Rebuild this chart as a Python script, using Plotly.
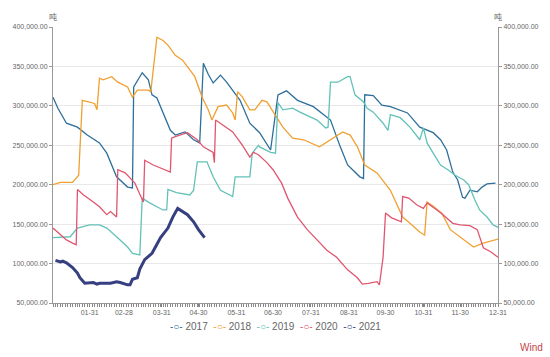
import plotly.graph_objects as go

SERIES_NAMES = ["2017", "2018", "2019", "2020", "2021"]
COLORS = ["#2d6f9b", "#f0a030", "#62c2b8", "#e0566f", "#363f80"]
LINE_WIDTHS = [1.3, 1.3, 1.3, 1.3, 3.0]

dates_2017 = ["01-01","01-05","01-12","01-21","01-29","02-08","02-14","02-22","03-03","03-07",
              "03-08","03-15","03-20","03-23","03-27","04-01","04-07","04-11","04-19","04-26",
              "05-01","05-04","05-08","05-12","05-18","05-23","06-03","06-11","06-19","06-28",
              "07-04","07-11","07-20","08-02","08-10","08-16","08-24","08-30","09-09","09-12",
              "09-13","09-20","09-27","10-04","10-18","10-28","11-08","11-14","11-19","11-24",
              "11-28","12-02","12-04","12-08","12-14","12-18","12-22","12-29"]
values_2017 = [311000,297000,278000,273000,263000,253000,240000,210000,197000,196000,
               324000,342000,333000,314000,310000,291000,269000,263000,267000,257000,
               253000,354000,340000,329000,339000,330000,307000,278000,266000,244000,
               314000,319000,307000,299000,289000,282000,248000,225000,210000,208000,
               314000,313000,301000,299000,291000,273000,266000,257000,244000,216000,
               206000,184000,183000,193000,191000,197000,201000,202000]

dates_2018 = ["01-01","01-07","01-17","01-21","01-22","01-25","01-31","02-04","02-06","02-08",
              "02-11","02-18","02-23","03-03","03-07","03-11","03-20","03-22","03-27","04-01",
              "04-05","04-11","04-17","04-21","04-27","05-03","05-08","05-11","05-16","05-23",
              "05-28","05-30","06-01","06-05","06-11","06-15","06-21","06-25","07-03","07-08",
              "07-16","07-25","08-07","08-16","08-26","09-01","09-07","09-13","09-15","09-23",
              "10-04","10-14","10-20","10-28","11-01","11-03","11-07","11-15","11-22","11-28",
              "12-03","12-11","12-19","12-31"]
values_2018 = [200000,203000,203000,211000,212000,307000,305000,303000,295000,335000,
               333000,337000,330000,324000,311000,320000,320000,318000,387000,383000,
               377000,364000,358000,349000,337000,311000,295000,282000,299000,301000,
               291000,282000,318000,311000,295000,295000,307000,305000,286000,273000,
               259000,257000,248000,257000,267000,263000,248000,225000,223000,215000,
               193000,159000,151000,140000,136000,178000,174000,164000,143000,136000,
               130000,121000,126000,131000]

dates_2019 = ["01-01","01-15","01-21","01-31","02-08","02-14","02-22","03-03","03-07","03-13",
              "03-15","03-21","04-01","04-04","04-05","04-12","04-23","04-26","04-29","05-07",
              "05-08","05-12","05-18","05-28","05-30","06-11","06-13","06-18","06-19","06-28",
              "07-02","07-04","07-08","07-16","07-22","08-05","08-12","08-14","08-16","08-22",
              "08-30","09-01","09-05","09-12","09-15","09-20","09-28","10-02","10-04","10-12",
              "10-20","10-28","10-31","11-03","11-08","11-14","11-20","11-26","12-03","12-07",
              "12-12","12-16","12-22","12-27","12-31"]
values_2019 = [133000,134000,145000,149000,149000,145000,134000,121000,113000,111000,
               183000,177000,168000,168000,194000,190000,187000,193000,229000,229000,
               225000,210000,193000,185000,210000,210000,240000,250000,248000,241000,
               240000,304000,295000,297000,292000,282000,272000,273000,330000,330000,
               337000,337000,314000,305000,297000,292000,278000,269000,289000,285000,
               273000,257000,272000,253000,240000,225000,219000,212000,206000,200000,
               181000,168000,159000,149000,146000]

dates_2020 = ["01-01","01-04","01-12","01-17","01-20","01-21","01-26","02-03","02-08","02-14",
              "02-17","02-22","02-23","03-01","03-09","03-13","03-16","03-17","03-24","04-07",
              "04-08","04-11","04-21","04-29","05-04","05-12","05-13","05-14","05-20","05-28",
              "06-05","06-11","06-14","06-18","06-25","06-30","07-07","07-12","07-20","07-28",
              "08-05","08-13","08-21","08-30","09-07","09-11","09-16","09-23","09-25","09-28",
              "09-30","10-05","10-13","10-14","10-19","10-26","10-31","11-03","11-11","11-16",
              "11-24","11-30","12-08","12-14","12-19","12-25","12-31"]
values_2020 = [145000,141000,130000,126000,124000,194000,187000,178000,172000,162000,
               166000,159000,219000,215000,202000,188000,178000,231000,225000,216000,
               259000,261000,266000,257000,248000,241000,228000,282000,276000,267000,
               250000,235000,241000,238000,228000,219000,202000,183000,159000,143000,
               130000,117000,108000,92000,82000,74000,75000,77000,73000,108000,
               164000,158000,153000,185000,183000,174000,170000,177000,168000,162000,
               151000,149000,148000,143000,120000,115000,108000]

dates_2021 = ["01-03","01-07","01-09","01-12","01-17","01-21","01-23","01-27","02-03","02-06",
              "02-08","02-17","02-22","02-25","03-03","03-05","03-07","03-11","03-13","03-17",
              "03-23","03-30","04-05","04-09","04-13","04-17","04-21","04-26","04-30","05-05"]
values_2021 = [104000,102000,103000,101000,95000,88000,82000,75000,76000,74000,
               75000,75000,77000,76000,73000,73000,80000,82000,93000,105000,
               113000,133000,145000,159000,170000,166000,162000,153000,143000,133000]

TICK_LABELS = ["01-31","02-28","03-31","04-30","05-31","06-30",
               "07-31","08-31","09-30","10-31","11-30","12-31"]
Y_UNIT = "吨"
SOURCE = "Wind"

all_dates = [dates_2017, dates_2018, dates_2019, dates_2020, dates_2021]
all_values = [values_2017, values_2018, values_2019, values_2020, values_2021]

BASE_YEAR = "2021-"
fig = go.Figure()
for name, color, lw, ds, vs in zip(SERIES_NAMES, COLORS, LINE_WIDTHS, all_dates, all_values):
    fig.add_trace(go.Scatter(
        x=[BASE_YEAR + d for d in ds], y=vs, name=name, mode="lines",
        line=dict(color=color, width=lw), showlegend=False,
    ))
# invisible trace to activate the right-hand axis
fig.add_trace(go.Scatter(x=[], y=[], yaxis="y2", showlegend=False, hoverinfo="skip"))

axis_font = dict(family="Liberation Sans, Arial, sans-serif", size=7, color="#666")
yaxis_common = dict(
    range=[50000, 400000], dtick=50000, tickformat=",.2f",
    showline=True, linecolor="#999", linewidth=1,
    ticks="outside", ticklen=3, tickcolor="#999",
    tickfont=axis_font, zeroline=False,
)

fig.update_layout(
    width=550, height=357,
    margin=dict(l=53, r=52, t=27, b=54),
    paper_bgcolor="white", plot_bgcolor="white",
    showlegend=False,
    xaxis=dict(
        type="date", range=[BASE_YEAR + "01-01", BASE_YEAR + "12-31"],
        tickvals=[BASE_YEAR + t for t in TICK_LABELS], ticktext=TICK_LABELS,
        showgrid=False, showline=True, linecolor="#999", linewidth=1,
        ticks="outside", ticklen=3, tickcolor="#888",
        minor=dict(dtick=2 * 86400000, tick0=BASE_YEAR + "01-01",
                   ticks="outside", ticklen=3, tickcolor="#888", showgrid=False),
        tickfont=axis_font,
    ),
    yaxis=dict(**yaxis_common, showgrid=True, gridcolor="#e8e8e8", gridwidth=1),
    yaxis2=dict(**yaxis_common, overlaying="y", side="right", showgrid=False),
)

# legend drawn as a single text line
parts = []
for name, color in zip(SERIES_NAMES, COLORS):
    parts.append(f'<span style="color:{color}">-○-</span> {name}')
legend_text = "&nbsp;&nbsp;".join(parts)

fig.add_annotation(xref="paper", yref="paper", x=0.5, y=0, yshift=-23,
                   text=legend_text, showarrow=False, xanchor="center", yanchor="middle",
                   font=dict(family="Liberation Sans, Arial, sans-serif", size=10, color="#666"))
fig.add_annotation(xref="paper", yref="paper", x=0, y=1, yshift=11, text=Y_UNIT,
                   showarrow=False, xanchor="center", yanchor="middle",
                   font=dict(family="Noto Sans CJK SC", size=8, color="#666"))
fig.add_annotation(xref="paper", yref="paper", x=1, y=1, yshift=11, text=Y_UNIT,
                   showarrow=False, xanchor="center", yanchor="middle",
                   font=dict(family="Noto Sans CJK SC", size=8, color="#666"))
fig.add_annotation(xref="paper", yref="paper", x=1, xshift=33, y=0, yshift=-44, text=SOURCE,
                   showarrow=False, xanchor="center", yanchor="middle",
                   font=dict(family="Liberation Sans, Arial, sans-serif", size=10, color="#c4464a"))

fig.write_html("out.html", config={"displayModeBar": False},
               post_script="document.body.style.margin='0';")
